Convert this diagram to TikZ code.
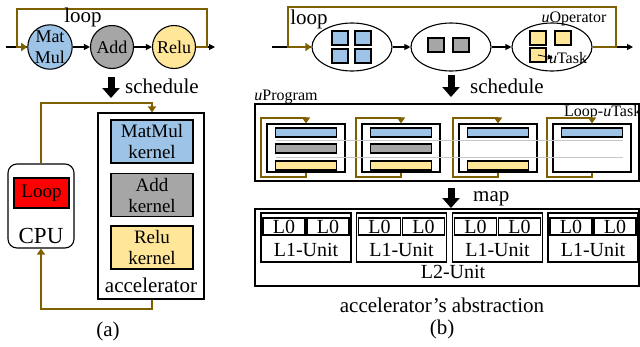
\documentclass[tikz,border=0pt]{standalone}
\usepackage{fontspec}
\setmainfont{Liberation Serif}
\usetikzlibrary{shapes.geometric,arrows.meta,positioning}

\definecolor{mmblue}{RGB}{157,195,230}
\definecolor{addgray}{RGB}{166,166,166}
\definecolor{reluyellow}{RGB}{255,230,153}
\definecolor{loopbrown}{RGB}{127,96,0}
\definecolor{gridgray}{RGB}{200,200,200}

\begin{document}
\begin{tikzpicture}
    [ x=1pt, y=-1pt,
      font={\fontsize{21}{22}\selectfont},
      every node/.append style={inner sep=0pt},
      smalltext/.style={font={\fontsize{16}{17}\selectfont}},
      unitfont/.style={font={\fontsize{20}{21}\selectfont}},
      op/.style={circle, draw, line width=1.1pt, minimum size=43, align=center,
                 font={\fontsize{18}{21}\selectfont}},
      kernel/.style={draw, line width=1.1pt, minimum width=82, minimum height=43,
                     align=center, font={\fontsize{19}{21}\selectfont}},
      uop/.style={ellipse, draw, line width=1.1pt, minimum width=80, minimum height=48},
      cell/.style={draw, line width=1.1pt, minimum width=16, minimum height=14},
      taskbar/.style={draw, line width=1.1pt, minimum width=61, minimum height=9},
      unitbox/.style={draw, line width=1.1pt},
      flow/.style={line width=1.1pt, -{Triangle[length=6pt,width=6pt]}},
      loopline/.style={loopbrown, line width=1.3pt},
      looparrow/.style={loopline, -{Triangle[length=6pt,width=8pt]}},
      sched/.style={line width=7pt, -{Triangle[length=10pt,width=17pt]}},
      gridline/.style={gridgray, line width=0.8pt}
    ]
    \useasboundingbox (0,0) rectangle (640,346);

    % (a) Operator graph
    \node[op, fill=mmblue] (mm) at (50,47) {Mat\\Mul};
    \node[op, fill=addgray] (add) at (112,47) {Add};
    \node[op, fill=reluyellow] (relu) at (174,47) {Relu};
    \coordinate (ain) at (6,47);
    \coordinate (aout) at (215,47);
    \coordinate (aloopl) at (17,9);
    \coordinate (aloopr) at (207,9);
    \draw[line width=1.1pt] (ain) -- (mm);
    \draw[flow] (mm) -- (add);
    \draw[flow] (add) -- (relu);
    \draw[flow] (relu) -- (aout);
    \draw[looparrow] (relu.east) -| (aloopr) -- (aloopl) |- (mm.west);
    \node (loopa) at (83,17) {loop};

    % (a) Schedule
    \coordinate (scha1) at (111,77);
    \coordinate (scha2) at (111,98);
    \draw[sched] (scha1) -- (scha2);
    \node[anchor=west] (schedulea) at (125,86) {schedule};

    % (a) CPU and accelerator
    \node[draw, line width=1.1pt, rounded corners=9, minimum width=66,
          minimum height=84] (cpu) at (41,206) {};
    \node[kernel, fill=red, minimum width=55, minimum height=30] (loopk)
        at (41.5,193) {Loop};
    \node[font={\fontsize{23}{24}\selectfont}] (cpulbl) at (41,236) {CPU};
    \node[unitbox, minimum width=106, minimum height=186] (acc) at (151,206) {};
    \node[kernel, fill=mmblue] (mmk) at (152,141.5) {MatMul\\kernel};
    \node[kernel, fill=addgray] (addk) at (152,195) {Add\\kernel};
    \node[kernel, fill=reluyellow] (reluk) at (152,247.5) {Relu\\kernel};
    \node (acclbl) at (151,285) {accelerator};
    \coordinate (acctop) at (152,103);
    \coordinate (accbot) at (152,309);
    \draw[looparrow] (cpu.north) |- (acctop) -- (acctop |- acc.north);
    \draw[looparrow] (accbot |- acc.south) -- (accbot) -| (cpu.south);
    \node (capa) at (108,331) {(a)};

    % (b) uOperator graph
    \node[uop] (uop1) at (352,47) {};
    \node[uop] (uop2) at (451,47) {};
    \node[uop] (uop3) at (552,47) {};
    \foreach \x in {340,363} {
        \foreach \y in {38,56} {
            \node[cell, fill=mmblue] (blue-\x-\y) at (\x,\y) {};
        }
    }
    \node[cell, fill=addgray] (gray1) at (436,45) {};
    \node[cell, fill=addgray] (gray2) at (461,45) {};
    \node[cell, fill=reluyellow] (yel1) at (538,38) {};
    \node[cell, fill=reluyellow] (yel2) at (563,38) {};
    \node[cell, fill=reluyellow] (yel3) at (538,55) {};
    \coordinate (bin) at (272,47);
    \coordinate (bout) at (633,47);
    \coordinate (bloopl) at (288,7);
    \coordinate (bloopr) at (616,7);
    \draw[line width=1.1pt] (bin) -- (uop1);
    \draw[flow] (uop1) -- (uop2);
    \draw[flow] (uop2) -- (uop3);
    \draw[flow] (uop3) -- (bout);
    \draw[looparrow] (uop3.east) -| (bloopr) -- (bloopl) |- (uop1.west);
    \node (loopb) at (309,19) {loop};
    \node[smalltext] (uoplbl) at (574,19) {\textit{u}Operator};
    \node[smalltext] (utask) at (568,58) {\textit{u}Task};
    \draw[line width=0.8pt, -{Triangle[length=5pt,width=5pt]}]
        (yel3.center) -- ([xshift=4pt]utask.west);

    % (b) Schedule
    \coordinate (schb1) at (451,75);
    \coordinate (schb2) at (451,97);
    \draw[sched] (schb1) -- (schb2);
    \node[anchor=west] (scheduleb) at (470,86) {schedule};

    % uProgram
    \node[smalltext] (uproglbl) at (286,97) {\textit{u}Program};
    \node[unitbox, minimum width=384, minimum height=77] (uprog) at (447,142.5) {};
    \node[smalltext, anchor=west] (looptasklbl) at (564,113) {Loop-\textit{u}Task};

    % Loop-uTasks
    \foreach \n/\cx in {1/306, 2/401, 3/498, 4/592} {
        \node[unitbox, minimum width=78, minimum height=48] (task\n) at (\cx,148) {};
        \coordinate (taskbl\n) at (\cx-45,177);
        \coordinate (tasktl\n) at (\cx-45,118);
        \draw[looparrow] (task\n.south) |- (taskbl\n) -- (tasktl\n) -| (task\n.north);
        \node[taskbar, fill=mmblue] (mmbar\n) at (\cx,132.5) {};
    }
    \foreach \n/\cx in {1/306, 2/401}
        \node[taskbar, fill=addgray] (addbar\n) at (\cx,148.5) {};
    \foreach \n/\cx in {1/306, 2/401, 3/498}
        \node[taskbar, fill=reluyellow] (relubar\n) at (\cx,165.5) {};
    \coordinate (grida1) at (276,140);
    \coordinate (gridb1) at (623,140);
    \coordinate (grida2) at (276,157);
    \coordinate (gridb2) at (623,157);
    \draw[gridline] (grida1) -- (gridb1);
    \draw[gridline] (grida2) -- (gridb2);

    % Map
    \coordinate (mapa1) at (451,188);
    \coordinate (mapa2) at (451,208);
    \draw[sched] (mapa1) -- (mapa2);
    \node[anchor=west] (maplbl) at (473,199) {map};

    % Accelerator abstraction
    \node[unitbox, minimum width=384, minimum height=77] (ltwo) at (447,247.5) {};
    \foreach \n/\cx in {1/306, 2/401.5, 3/497.5, 4/593} {
        \node[unitbox, minimum width=90, minimum height=49] (lone\n) at (\cx,237.5) {};
        \node[unitbox, unitfont, minimum width=42, minimum height=17] (lzeroa\n)
            at (\cx-22,226.5) {L0};
        \node[unitbox, unitfont, minimum width=42, minimum height=17] (lzerob\n)
            at (\cx+22,226.5) {L0};
        \node[unitfont] (lonelbl\n) at (\cx,250) {L1-Unit};
    }
    \node[unitfont] (ltwolbl) at (453,272) {L2-Unit};

    \node (absb) at (442,305) {accelerator's abstraction};
    \node (capb) at (442,329) {(b)};

\end{tikzpicture}
\end{document}
